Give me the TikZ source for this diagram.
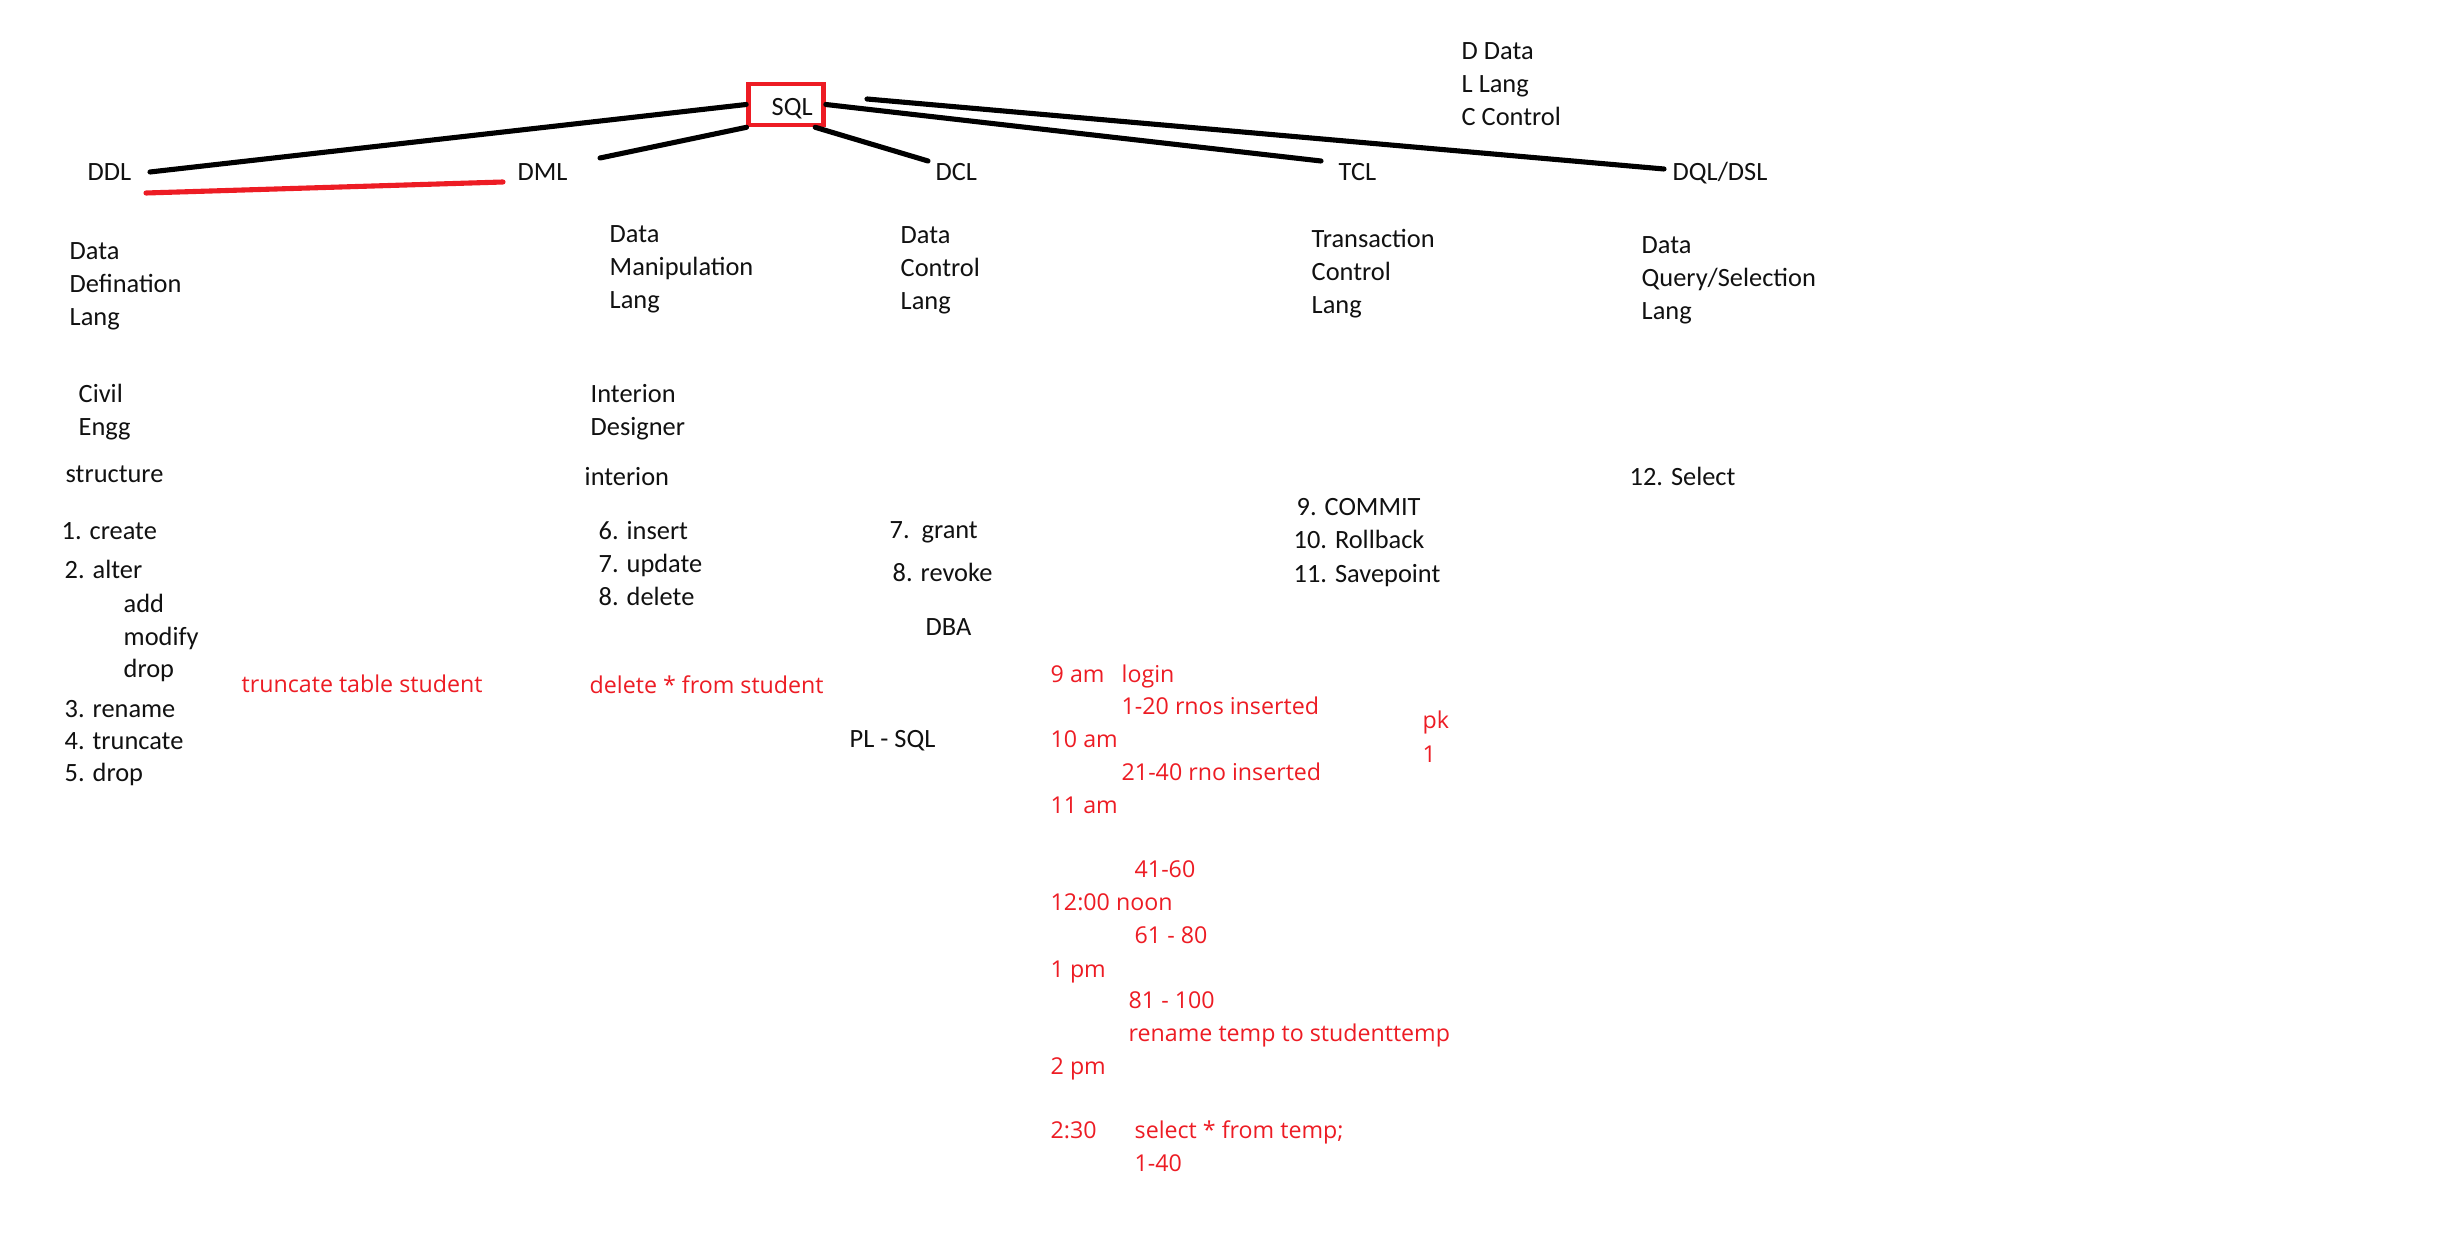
\documentclass[tikz,border=0pt]{standalone}
\usepackage{fontspec}
\setmainfont{Carlito}
\newfontfamily\notefont{Open Sans}
\usepackage{tikz}
\definecolor{ink}{HTML}{111111}
\definecolor{pen}{HTML}{ED1C24}
\tikzset{
  line/.style={draw=black, line width=1.45pt, line cap=round},
  rline/.style={draw=pen, line width=1.45pt, line cap=round},
  sqlbox/.style={draw=pen, line width=1.3pt, inner sep=0pt, minimum width=0.75cm, minimum height=0.41cm},
  lbl/.style={text=ink, font=\fontsize{7.5}{9.4}\selectfont, anchor=base west, inner sep=0pt, align=left},
  rlbl/.style={text=pen, font=\notefont\fontsize{6.6}{9.4}\selectfont, anchor=base west, inner sep=0pt, align=left}
}

\begin{document}
\begin{tikzpicture}[x=0.01cm, y=-0.01cm]
  \fill[white] (0,0) rectangle (2442,1255);
  \useasboundingbox (0,0) rectangle (2442,1255);

  \node[sqlbox] (sql) at (786,104.5) {};
  \node[lbl] (sqltxt) at (771,116) {SQL};

  \node[lbl] (ddl) at (87,181) {DDL};
  \node[lbl] (dml) at (517,181) {DML};
  \node[lbl] (dcl) at (935,181) {DCL};
  \node[lbl] (tcl) at (1338,181) {TCL};
  \node[lbl] (dql) at (1672,181) {DQL/DSL};
  \node[lbl] (legend) at (1461,126) {D Data\\L Lang\\C Control};

  \coordinate (ddlend) at (150,172);
  \coordinate (dmlend) at (600,158);
  \coordinate (dclend) at (928,161);
  \coordinate (tclend) at (1321,161);
  \coordinate (dqlstart) at (867,99);
  \coordinate (dqlend) at (1664,169);
  \coordinate (ulA) at (146,193);
  \coordinate (ulB) at (503,182);

  \draw[line] (sql.west) -- (ddlend);
  \draw[line] (sql.210) -- (dmlend);
  \draw[line] (sql.-38) -- (dclend);
  \draw[line] (sql.east) -- (tclend);
  \draw[line] (dqlstart) -- (dqlend);
  \draw[rline] (ulA) -- (ulB);

  \node[lbl] (ddlname) at (69,326) {Data\\Defination\\Lang};
  \node[lbl] (dmlname) at (609,309) {Data\\Manipulation\\Lang};
  \node[lbl] (dclname) at (900,310) {Data\\Control\\Lang};
  \node[lbl] (tclname) at (1311,314) {Transaction\\Control\\Lang};
  \node[lbl] (dqlname) at (1641,320) {Data\\Query/Selection\\Lang};

  \node[lbl] (civil) at (78,436) {Civil\\Engg};
  \node[lbl] (structure) at (65,483) {structure};
  \node[lbl] (designer) at (590,436) {Interion\\Designer};
  \node[lbl] (interion) at (584,486) {interion};

  \node[lbl] (create) at (61,540) {1. create};
  \node[lbl] (alter) at (64,579) {2. alter};
  \node[lbl] (add) at (123,612) {add};
  \node[lbl] (modify) at (123,645) {modify};
  \node[lbl] (dropcol) at (123,677) {drop};
  \node[lbl] (rename) at (64,717) {3. rename};
  \node[lbl] (truncate) at (64,749) {4. truncate};
  \node[lbl] (drop) at (64,781) {5. drop};

  \node[lbl] (insert) at (598,540) {6. insert};
  \node[lbl] (update) at (598,573) {7. update};
  \node[lbl] (delete) at (598,606) {8. delete};

  \node[lbl] (grant) at (889,539) {7.\ \ grant};
  \node[lbl] (revoke) at (892,581) {8. revoke};
  \node[lbl] (dba) at (925,636) {DBA};
  \node[lbl] (plsql) at (849,747) {PL - SQL};

  \node[lbl] (commit) at (1296,515) {9. COMMIT};
  \node[lbl] (rollback) at (1293,549) {10. Rollback};
  \node[lbl] (savepoint) at (1293,582) {11. Savepoint};
  \node[lbl] (select) at (1629,486) {12. Select};

  \node[rlbl] (trunctab) at (241,692) {truncate table student};
  \node[rlbl] (delstud) at (589,693) {delete * from student};

  \node[rlbl] (t9) at (1050,682) {9 am};
  \node[rlbl] (login) at (1121,682) {login};
  \node[rlbl] (r1) at (1121,714) {1-20 rnos inserted};
  \node[rlbl] (t10) at (1050,747) {10 am};
  \node[rlbl] (r2) at (1121,780) {21-40 rno inserted};
  \node[rlbl] (t11) at (1050,813) {11 am};
  \node[rlbl] (r3) at (1134,877) {41-60};
  \node[rlbl] (t12) at (1050,910) {12:00 noon};
  \node[rlbl] (r4) at (1134,943) {61 - 80};
  \node[rlbl] (t13) at (1050,977) {1 pm};
  \node[rlbl] (r5) at (1128,1008) {81 - 100};
  \node[rlbl] (ren) at (1128,1041) {rename temp to studenttemp};
  \node[rlbl] (t14) at (1050,1074) {2 pm};
  \node[rlbl] (t1430) at (1050,1138) {2:30};
  \node[rlbl] (sel) at (1134,1138) {select * from temp;};
  \node[rlbl] (r6) at (1134,1171) {1-40};
  \node[rlbl] (pk) at (1422,762) {pk\\1};
\end{tikzpicture}
\end{document}
